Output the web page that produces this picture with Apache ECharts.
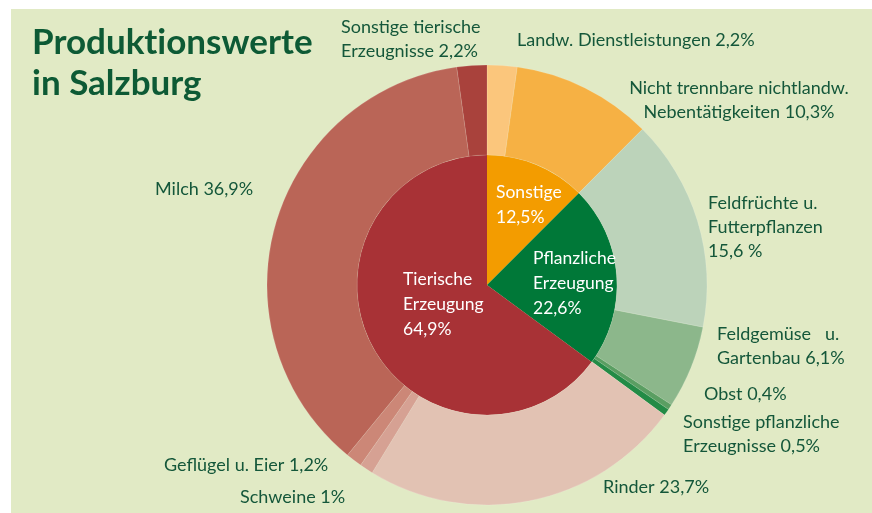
<!DOCTYPE html>
<html><head><meta charset="utf-8">
<script src="https://cdn.jsdelivr.net/npm/echarts@6/dist/echarts.min.js"></script>
<style>html,body{margin:0;padding:0;background:#fff;}#c{width:872px;height:513px;}</style>
</head><body><div id="c"></div>
<script>
// Data
const innerNames = ['Sonstige', 'Pflanzliche\nErzeugung', 'Tierische\nErzeugung'];
const innerValues = [12.5, 22.6, 64.9];
const innerLabels = ['12,5%', '22,6%', '64,9%'];

const outerNames = ['Landw. Dienstleistungen', 'Nicht trennbare nichtlandw.\nNebentätigkeiten', 'Feldfrüchte u.\nFutterpflanzen\n', 'Feldgemüse   u.\nGartenbau', 'Obst', 'Sonstige pflanzliche\nErzeugnisse', 'Rinder', 'Schweine', 'Geflügel u. Eier', 'Milch', 'Sonstige tierische\nErzeugnisse'];
const outerValues = [2.2, 10.3, 15.6, 6.1, 0.4, 0.5, 23.7, 1.0, 1.2, 36.9, 2.2];
const outerLabels = ['2,2%', '10,3%', '15,6 %', '6,1%', '0,4%', '0,5%', '23,7%', '1%', '1,2%', '36,9%', '2,2%'];

// Styles
const innerColors = ['#f39c00', '#007838', '#a83236'];
const outerColors = ['#fbc67c', '#f6b144', '#bcd3ba', '#8cb78b', '#5a9e62', '#238b46', '#e2c2b3', '#d6a193', '#cc8777', '#ba6557', '#a9423c'];
const innerPos = [[496, 205, 'left'], [533, 283, 'left'], [403, 304, 'left']];
const outerPos = [[517, 40, 'left'], [739, 100, 'center'], [708, 227, 'left'], [717, 346, 'left'], [704, 394, 'left'], [683, 434, 'left'], [603, 487, 'left'], [240, 497, 'left'], [164, 465, 'left'], [155, 189, 'left'], [341, 39, 'left']];

const FONT = 'Lato';
const TXT = '#14573a';
const chart = echarts.init(document.getElementById('c'), null, {renderer: 'canvas'});
chart.setOption({
  backgroundColor: 'transparent',
  animation: false,
  graphic: [
    {type: 'rect', shape: {x: 11, y: 9, width: 861, height: 504}, style: {fill: '#e1eac5'}, z: -10},
    {type: 'text', left: 32, top: 22, style: {text: 'Produkt\u200Cionswerte\nin Salzburg', font: 'bold 35px Lato', fill: '#0d5a35', lineHeight: 41}}
  ],
  series: [
    {
      type: 'pie', center: [487, 285], radius: [0, 130], startAngle: 90, clockwise: true,
      data: innerValues.map((v, i) => ({value: v, name: innerNames[i], itemStyle: {color: innerColors[i]}})),
      label: {show: true, position: 'inside', color: '#fff', fontFamily: FONT, fontSize: 17.5, lineHeight: 25, overflow: 'none',
        formatter: p => p.name + '\n' + innerLabels[p.dataIndex]},
      labelLayout: p => ({x: innerPos[p.dataIndex][0], y: innerPos[p.dataIndex][1], align: innerPos[p.dataIndex][2], verticalAlign: 'middle'}),
      labelLine: {show: false}, silent: true
    },
    {
      type: 'pie', center: [487, 285], radius: [130, 220], startAngle: 90, clockwise: true,
      data: outerValues.map((v, i) => ({value: v, name: outerNames[i], itemStyle: {color: outerColors[i]}})),
      itemStyle: {borderColor: 'rgba(255,255,255,0.25)', borderWidth: 0.5},
      label: {show: true, position: 'outside', color: TXT, fontFamily: FONT, fontSize: 18, lineHeight: 24, overflow: 'none',
        formatter: p => {
          const n = p.name;
          return n.endsWith('\n') ? n + outerLabels[p.dataIndex] : n + ' ' + outerLabels[p.dataIndex];
        }},
      labelLayout: p => ({x: outerPos[p.dataIndex][0], y: outerPos[p.dataIndex][1], align: outerPos[p.dataIndex][2], verticalAlign: 'middle'}),
      labelLine: {show: false}, silent: true
    }
  ]
});
</script></body></html>
